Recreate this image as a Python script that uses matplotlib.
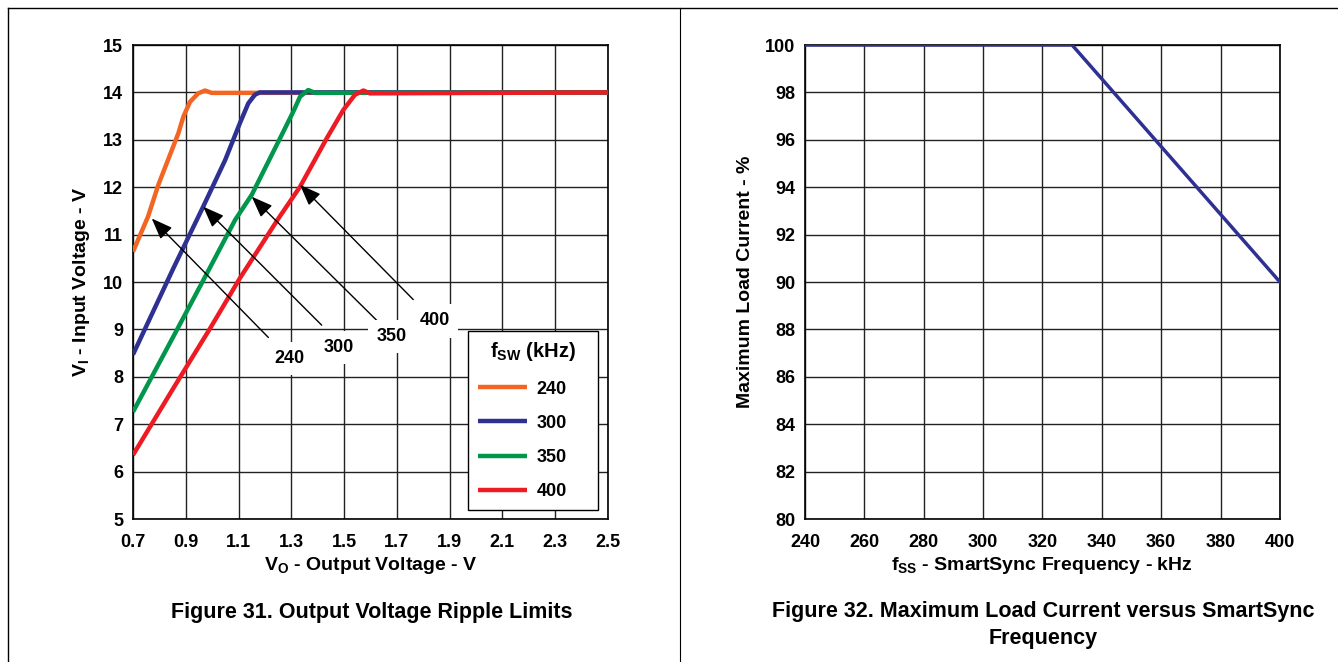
import matplotlib
matplotlib.use('Agg')
from matplotlib import pyplot as plt
from matplotlib.lines import Line2D

plt.rcParams['font.family'] = ['Liberation Sans', 'DejaVu Sans']
plt.rcParams['font.weight'] = 'bold'
plt.rcParams['mathtext.default'] = 'regular'

# Figure 31 data - input voltage limit vs output voltage
vo_240 = [0.70, 0.757, 0.796, 0.840, 0.872, 0.891, 0.916, 0.947, 0.973, 0.998, 2.5]
vi_240 = [10.64, 11.38, 12.05, 12.68, 13.14, 13.49, 13.80, 13.98, 14.04, 13.99, 14.0]
vo_300 = [0.70, 0.853, 0.966, 1.049, 1.105, 1.137, 1.162, 1.18, 2.5]
vi_300 = [8.47, 10.29, 11.59, 12.57, 13.35, 13.77, 13.95, 14.0, 14.0]
vo_350 = [0.70, 0.853, 0.96, 1.087, 1.15, 1.257, 1.307, 1.333, 1.364, 1.39, 2.5]
vi_350 = [7.26, 8.85, 9.97, 11.31, 11.84, 13.03, 13.59, 13.91, 14.05, 13.99, 14.0]
vo_400 = [0.70, 0.853, 0.992, 1.105, 1.251, 1.333, 1.434, 1.497, 1.541, 1.573, 1.598, 2.5]
vi_400 = [6.35, 7.76, 9.02, 10.08, 11.34, 12.01, 13.03, 13.63, 13.95, 14.04, 13.98, 14.0]

fsw_labels = ['240', '300', '350', '400']
arrow_tips = [(0.771, 11.34), (0.966, 11.59), (1.15, 11.8), (1.333, 12.05)]
arrow_tails = [(1.213, 8.83), (1.415, 9.09), (1.642, 9.09), (1.762, 9.63)]
label_pos = [(1.292, 8.39), (1.478, 8.62), (1.68, 8.85), (1.844, 9.18)]

# Figure 32 data - max load current vs SmartSync frequency
fss = [240, 330, 400]
load_pct = [100, 100, 90]

colors = ['#F26522', '#2E3192', '#00964B', '#ED1C24']
fs = 14      # axis labels
fs_tick = 13

fig = plt.figure(figsize=(13.38, 6.62), dpi=100)
ax1 = fig.add_axes([0.0994, 0.216, 0.355, 0.716])
ax2 = fig.add_axes([0.6016, 0.216, 0.355, 0.716])

# left chart
for xs, ys, c, lab in zip([vo_240, vo_300, vo_350, vo_400],
                          [vi_240, vi_300, vi_350, vi_400], colors, fsw_labels):
    ax1.plot(xs, ys, color=c, lw=3.2, label=lab, solid_capstyle='butt',
             solid_joinstyle='round', zorder=3)

ax1.set_xlim(0.7, 2.5)
ax1.set_ylim(5, 15)
ax1.set_xticks([0.7, 0.9, 1.1, 1.3, 1.5, 1.7, 1.9, 2.1, 2.3, 2.5])
ax1.set_yticks(range(5, 16))
ax1.set_xlabel(r'V$_\mathregular{O}$ - Output Voltage - V', fontsize=fs, fontweight='bold', labelpad=3)
ax1.set_ylabel(r'V$_\mathregular{I}$ - Input Voltage - V', fontsize=fs, fontweight='bold', labelpad=8)

for tip, tail, pos, lab in zip(arrow_tips, arrow_tails, label_pos, fsw_labels):
    ax1.annotate('', xy=tip, xytext=tail,
                 arrowprops=dict(arrowstyle='-|>,head_length=1.3,head_width=0.5',
                                 color='black', lw=1, shrinkA=0, shrinkB=0), zorder=4)
    ax1.text(pos[0], pos[1], lab, ha='center', va='center', fontsize=fs_tick, fontweight='bold',
             bbox=dict(fc='white', ec='none', pad=6), zorder=5)

leg = ax1.legend(title=r'f$_\mathregular{SW}$ (kHz)', loc='lower left',
                 bbox_to_anchor=(0.705, 0.019, 0.273, 0.39), mode='expand',
                 fancybox=False, edgecolor='black',
                 framealpha=1, fontsize=fs_tick, title_fontsize=14.5, handlelength=2.7,
                 labelspacing=0.95, borderpad=0.55, handletextpad=0.55, borderaxespad=0)
leg.get_title().set_fontweight('bold')
leg.get_frame().set_linewidth(1)
leg.set_zorder(6)

# right chart
ax2.plot(fss, load_pct, color='#2E3192', lw=2.5, zorder=3)
ax2.set_xlim(240, 400)
ax2.set_ylim(80, 100)
ax2.set_xticks(range(240, 401, 20))
ax2.set_yticks(range(80, 101, 2))
ax2.set_xlabel(r'f$_\mathregular{SS}$ - SmartSync Frequency - kHz', fontsize=fs, fontweight='bold', labelpad=3)
ax2.set_ylabel('Maximum Load Current - %', fontsize=fs, fontweight='bold', labelpad=8)

for ax in (ax1, ax2):
    ax.grid(True, color='#222222', lw=1)
    ax.set_axisbelow(True)
    ax.tick_params(axis='x', length=0, labelsize=fs_tick, pad=11)
    ax.tick_params(axis='y', length=0, labelsize=fs_tick, pad=7)
    for t in ax.get_xticklabels() + ax.get_yticklabels():
        t.set_fontweight('bold')
    for s in ax.spines.values():
        s.set_linewidth(1.2)

fig.text(0.278, 0.0755, 'Figure 31. Output Voltage Ripple Limits', ha='center', va='center',
         fontsize=15.5, fontweight='bold')
fig.text(0.780, 0.056, 'Figure 32. Maximum Load Current versus SmartSync\nFrequency',
         ha='center', va='center', fontsize=15.5, fontweight='bold', linespacing=1.35)

# page frame
fig.add_artist(Line2D([8 / 1338, 1], [1 - 8 / 662, 1 - 8 / 662], color='black', lw=1))
fig.add_artist(Line2D([8 / 1338, 8 / 1338], [0, 1 - 8 / 662], color='black', lw=1))
fig.add_artist(Line2D([680 / 1338, 680 / 1338], [0, 1 - 8 / 662], color='black', lw=0.8))

fig.savefig('out.png', dpi=100)
